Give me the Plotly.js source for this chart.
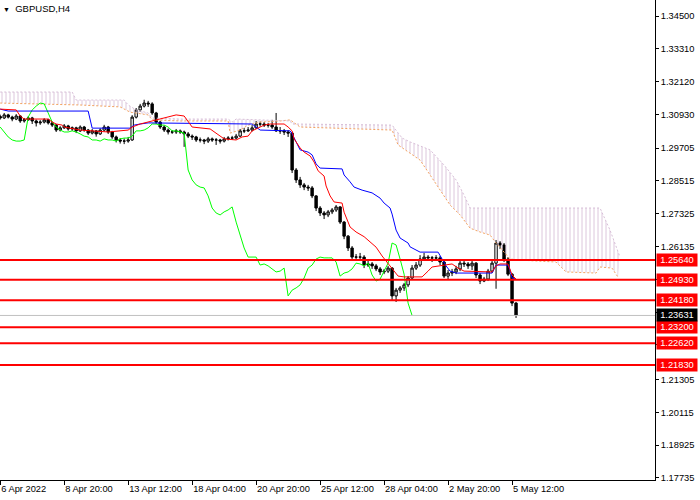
<!DOCTYPE html>
<html><head><meta charset="utf-8">
<script src="https://cdn.plot.ly/plotly-3.0.1.min.js"></script>
<style>html,body{margin:0;padding:0;background:#fff}#chart{width:700px;height:500px}</style>
</head><body><div id="chart"></div>
<script>
// ---- data (H4 bars, index 0 = first visible bar) ----
const symbolTitle = "GBPUSD,H4";
const tickBars = [0,16,32,48,64,80,96,112,128];
const tickLabels = ["6 Apr 2022","8 Apr 20:00","13 Apr 12:00","18 Apr 04:00","20 Apr 20:00","25 Apr 12:00","28 Apr 04:00","2 May 20:00","5 May 12:00"];

const openP = [1.3085,1.3080,1.3091,1.3083,1.3076,1.3087,1.3069,1.3073,1.3080,1.3069,
1.3062,1.3065,1.3073,1.3062,1.3054,1.3036,1.3044,1.3051,1.3040,1.3044,
1.3033,1.3047,1.3036,1.3025,1.3033,1.3022,1.3036,1.3047,1.3029,1.3011,
1.3000,1.2996,1.2996,1.3000,1.3083,1.3109,1.3123,1.3134,1.3131,1.3098,
1.3065,1.3047,1.3036,1.3029,1.3029,1.3033,1.3029,1.3022,1.3014,1.3011,
1.3000,1.3000,1.2996,1.3004,1.3000,1.3000,1.2996,1.3004,1.3007,1.3007,
1.3014,1.3033,1.3033,1.3036,1.3044,1.3058,1.3058,1.3054,1.3054,1.3047,
1.3033,1.3033,1.3029,1.3025,1.2891,1.2855,1.2837,1.2829,1.2826,1.2797,
1.2753,1.2735,1.2728,1.2739,1.2746,1.2757,1.2702,1.2651,1.2608,1.2575,
1.2575,1.2575,1.2546,1.2550,1.2543,1.2532,1.2521,1.2524,1.2535,1.2434,
1.2455,1.2463,1.2474,1.2499,1.2535,1.2546,1.2568,1.2575,1.2572,1.2572,
1.2572,1.2557,1.2506,1.2517,1.2521,1.2532,1.2553,1.2550,1.2543,1.2553,
1.2510,1.2488,1.2495,1.2524,1.2553,1.2626,1.2619,1.2568,1.2513,1.2408];

const highP = [1.3092,1.3098,1.3095,1.3088,1.3094,1.3090,1.3080,1.3086,1.3084,1.3074,
1.3072,1.3079,1.3077,1.3067,1.3058,1.3050,1.3058,1.3055,1.3049,1.3048,
1.3053,1.3051,1.3040,1.3040,1.3036,1.3042,1.3055,1.3051,1.3033,1.3016,
1.3007,1.3006,1.3011,1.3090,1.3116,1.3131,1.3146,1.3142,1.3137,1.3102,
1.3070,1.3053,1.3042,1.3036,1.3040,1.3038,1.3034,1.3029,1.3020,1.3015,
1.3009,1.3004,1.3011,1.3009,1.3007,1.3004,1.3011,1.3014,1.3015,1.3022,
1.3040,1.3044,1.3047,1.3054,1.3069,1.3067,1.3065,1.3062,1.3073,1.3098,
1.3047,1.3040,1.3036,1.3029,1.2898,1.2866,1.2844,1.2837,1.2833,1.2800,
1.2760,1.2742,1.2746,1.2753,1.2764,1.2760,1.2706,1.2655,1.2615,1.2586,
1.2590,1.2582,1.2561,1.2557,1.2550,1.2539,1.2532,1.2543,1.2539,1.2463,
1.2470,1.2481,1.2506,1.2546,1.2557,1.2582,1.2590,1.2582,1.2579,1.2582,
1.2579,1.2561,1.2528,1.2532,1.2543,1.2561,1.2564,1.2557,1.2564,1.2557,
1.2517,1.2503,1.2532,1.2561,1.2637,1.2633,1.2626,1.2575,1.2517,1.2412];

const lowP = [1.3074,1.3076,1.3078,1.3068,1.3072,1.3062,1.3063,1.3070,1.3058,1.3049,
1.3055,1.3060,1.3056,1.3047,1.3029,1.3031,1.3040,1.3034,1.3033,1.3025,
1.3029,1.3030,1.3018,1.3020,1.3012,1.3018,1.3031,1.3022,1.3004,1.2991,
1.2987,1.2985,1.2990,1.2997,1.3078,1.3102,1.3118,1.3120,1.3091,1.3058,
1.3040,1.3029,1.3020,1.3022,1.3022,1.3022,1.2975,1.3007,1.3000,1.2993,
1.2991,1.2985,1.2989,1.2993,1.2982,1.2987,1.2991,1.2998,1.3000,1.3002,
1.3011,1.3025,1.3029,1.3031,1.3040,1.3049,1.3047,1.3045,1.3040,1.3029,
1.3022,1.3018,1.3011,1.2880,1.2844,1.2826,1.2818,1.2815,1.2789,1.2742,
1.2724,1.2713,1.2720,1.2731,1.2739,1.2695,1.2640,1.2597,1.2564,1.2564,
1.2561,1.2535,1.2539,1.2532,1.2524,1.2510,1.2513,1.2517,1.2419,1.2412,
1.2445,1.2452,1.2466,1.2492,1.2528,1.2539,1.2561,1.2561,1.2557,1.2561,
1.2546,1.2499,1.2495,1.2506,1.2513,1.2524,1.2539,1.2532,1.2528,1.2499,
1.2477,1.2484,1.2488,1.2517,1.2460,1.2604,1.2557,1.2506,1.2397,1.2354];

const closeP = [1.3080,1.3091,1.3083,1.3076,1.3087,1.3069,1.3073,1.3080,1.3069,1.3062,
1.3065,1.3073,1.3062,1.3054,1.3036,1.3044,1.3051,1.3040,1.3044,1.3033,
1.3047,1.3036,1.3025,1.3033,1.3022,1.3036,1.3047,1.3029,1.3011,1.3000,
1.2996,1.2996,1.3000,1.3083,1.3109,1.3123,1.3134,1.3131,1.3098,1.3065,
1.3047,1.3036,1.3029,1.3029,1.3033,1.3029,1.3022,1.3014,1.3011,1.3000,
1.3000,1.2996,1.3004,1.3000,1.3000,1.2996,1.3004,1.3007,1.3007,1.3014,
1.3033,1.3033,1.3036,1.3044,1.3058,1.3058,1.3054,1.3054,1.3047,1.3033,
1.3033,1.3029,1.3025,1.2891,1.2855,1.2837,1.2829,1.2826,1.2797,1.2753,
1.2735,1.2728,1.2739,1.2746,1.2757,1.2702,1.2651,1.2608,1.2575,1.2575,
1.2575,1.2546,1.2550,1.2543,1.2532,1.2521,1.2524,1.2535,1.2434,1.2455,
1.2463,1.2474,1.2499,1.2535,1.2546,1.2568,1.2575,1.2572,1.2572,1.2572,
1.2557,1.2506,1.2517,1.2521,1.2532,1.2553,1.2550,1.2543,1.2553,1.2510,
1.2488,1.2495,1.2524,1.2553,1.2626,1.2619,1.2568,1.2513,1.2408,1.23631];

// Ichimoku lines (vertices: bar index, price)
const tenkanBar = [0,4,5,6,12,13,14,15.5,16,20,27,32,33,35,38,42,44,46,47,48,52.5,54,55,56,59,60.5,62,63,64,66,67.5,71,72,73,73.5,75,76,77.5,78.5,79.5,81,81.5,82.5,83.5,85.5,86,87.5,89,91,94,95.5,97,98,99.5,101,105.5,107,108,113,114.5,116,123,124,125,127,128,129];
const tenkanVal = [1.3112,1.3109,1.3087,1.3076,1.3076,1.3065,1.3058,1.3054,1.3047,1.3036,1.3029,1.3036,1.3047,1.3058,1.3069,1.3083,1.3091,1.3087,1.3065,1.3047,1.3040,1.3025,1.3014,1.3004,1.3000,1.3011,1.3014,1.3033,1.3040,1.3054,1.3058,1.3058,1.3047,1.3033,1.3004,1.2971,1.2956,1.2942,1.2920,1.2888,1.2869,1.2833,1.2797,1.2775,1.2771,1.2738,1.2684,1.2666,1.2649,1.2611,1.2579,1.2553,1.2532,1.2506,1.2503,1.2503,1.2524,1.2539,1.2550,1.2535,1.2524,1.2521,1.2543,1.2550,1.2550,1.2510,1.2495];

const kijunBar = [0,2,22,23,32.5,33.5,35,37,63,64,65,72.5,73,74,75,77,78,79,80,85.5,86,87.5,88.5,90.5,93,95,96,97.5,98,99,100,102,102.5,105,109.5,110.5,111.5,112.5,114,123,123.5,124,127,127.5,128,129];
const kijunVal = [1.3112,1.3105,1.3105,1.3043,1.3043,1.3054,1.3058,1.3062,1.3058,1.3047,1.3036,1.3033,1.3022,1.2993,1.2964,1.2956,1.2946,1.2913,1.2898,1.2895,1.2873,1.2848,1.2829,1.2818,1.2808,1.2789,1.2771,1.2753,1.2731,1.2673,1.2644,1.2626,1.2612,1.2593,1.2593,1.2568,1.2543,1.2524,1.2517,1.2517,1.2535,1.2546,1.2546,1.2528,1.2499,1.2495];

const spanABar = [0,7.5,20,30,32.5,37,38,45,57,57.5,60,62,65,70,72.5,75,82,98,99.5,102.5,105,107.5,110,112.5,115,117.5,120,122.5,124,127.5,130,139,141.5,149,150,153,154.5];
const spanAVal = [1.3134,1.3131,1.3127,1.3120,1.3101,1.3091,1.3073,1.3069,1.3069,1.3025,1.3036,1.3054,1.3065,1.3069,1.3073,1.3047,1.3044,1.3036,1.2982,1.2953,1.2927,1.2873,1.2818,1.2764,1.2728,1.2680,1.2666,1.2655,1.2626,1.2568,1.2564,1.2557,1.2521,1.2517,1.2539,1.2535,1.2502];

const spanBBar = [0,18,19,31,32,34,37,38,45,57,58,59,72.5,73,98,99,100.5,102.5,107.5,111,114,116,117.5,150,152.5,155];
const spanBVal = [1.3174,1.3174,1.3145,1.3145,1.3127,1.3109,1.3098,1.3080,1.3076,1.3076,1.3065,1.3076,1.3069,1.3058,1.3054,1.3036,1.3007,1.2993,1.2964,1.2909,1.2855,1.2800,1.2753,1.2753,1.2673,1.2575];

const chikouShift = 26;
const levels = [1.2564,1.2493,1.2418,1.2320,1.2262,1.2183];
const bidPrice = 1.23631;
const yTickVals = [1.34500,1.33310,1.32120,1.30930,1.29705,1.28515,1.27325,1.26135,1.24945,1.23755,1.22565,1.21305,1.20115,1.18925,1.17735];
// labels that sit under the level boxes are hidden in the reference
const yTickText = ["1.34500","1.33310","1.32120","1.30930","1.29705","1.28515","1.27325","1.26135","","","","1.21305","1.20115","1.18925","1.17735"];

// ---- build ----
const bars = closeP.map((_, i) => i);
const chX = [], chY = [];
for (let k = chikouShift; k < closeP.length; k++) { chX.push(k - chikouShift); chY.push(closeP[k]); }

const FONT = "Liberation Sans, Arial, sans-serif";
const traces = [
  {type:'scatter', mode:'lines', x:spanABar, y:spanAVal, line:{color:'#f4a460', width:1, dash:'2px,2px'}, hoverinfo:'skip'},
  {type:'scatter', mode:'lines', x:spanBBar, y:spanBVal, line:{color:'#d8bfd8', width:1, dash:'2px,2px'}, hoverinfo:'skip',
   fill:'tonexty', fillcolor:'rgba(0,0,0,0)',
   fillpattern:{shape:'|', fgcolor:'#dcc6dc', bgcolor:'rgba(0,0,0,0)', size:4, solidity:0.25}},
  {type:'candlestick', x:bars, open:openP, high:highP, low:lowP, close:closeP, whiskerwidth:0,
   increasing:{line:{color:'#000000', width:1}, fillcolor:'#ffffff'},
   decreasing:{line:{color:'#000000', width:1}, fillcolor:'#000000'}, hoverinfo:'skip'},
  {type:'scatter', mode:'lines', x:chX, y:chY, line:{color:'#00ff00', width:1}, hoverinfo:'skip'},
  {type:'scatter', mode:'lines', x:kijunBar, y:kijunVal, line:{color:'#0000ff', width:1}, hoverinfo:'skip'},
  {type:'scatter', mode:'lines', x:tenkanBar, y:tenkanVal, line:{color:'#ff0000', width:1}, hoverinfo:'skip'}
];

const shapes = levels.map(v => ({type:'line', xref:'paper', x0:0, x1:1, yref:'y', y0:v, y1:v, line:{color:'#ff0000', width:2}, layer:'above'}));
shapes.unshift({type:'line', xref:'paper', x0:0, x1:1, yref:'y', y0:bidPrice, y1:bidPrice, line:{color:'#c0c0c0', width:1}, layer:'above'});

const annotations = levels.map(v => ({xref:'paper', x:1, xanchor:'left', xshift:1, yref:'y', y:v, yanchor:'middle',
  text:v.toFixed(5), showarrow:false, bgcolor:'#ff0000', font:{family:FONT, size:9.3, color:'#ffffff'}, width:38, height:10, borderpad:1}));
annotations.push({xref:'paper', x:1, xanchor:'left', xshift:1, yref:'y', y:bidPrice, yanchor:'middle',
  text:bidPrice.toFixed(5), showarrow:false, bgcolor:'#000000', font:{family:FONT, size:9.3, color:'#ffffff'}, width:38, height:10, borderpad:1});
annotations.push({xref:'paper', yref:'paper', x:0, y:1, xanchor:'left', yanchor:'top', xshift:1, yshift:-1,
  text:'<span style="font-size:7px">▼</span>  ' + symbolTitle, showarrow:false, font:{family:FONT, size:9.5, color:'#000000'}});

const layout = {
  width:700, height:500, margin:{l:0, r:45, t:0, b:20, pad:0},
  paper_bgcolor:'#ffffff', plot_bgcolor:'#ffffff', showlegend:false, boxgap:0.15,
  xaxis:{range:[-0.05, 163.75], tickmode:'array', tickvals:tickBars, ticktext:tickLabels,
    showgrid:false, zeroline:false, showline:true, linecolor:'#000', linewidth:1,
    ticks:'outside', ticklen:4, tickcolor:'#000', ticklabelposition:'outside right',
    tickfont:{family:FONT, size:9.3, color:'#000'}, rangeslider:{visible:false}, fixedrange:true},
  yaxis:{side:'right', range:[1.17658, 1.35081], tickmode:'array', tickvals:yTickVals, ticktext:yTickText,
    showgrid:false, zeroline:false, showline:true, linecolor:'#000', linewidth:1,
    ticks:'outside', ticklen:3, tickcolor:'#000',
    tickfont:{family:FONT, size:9.3, color:'#000'}, fixedrange:true},
  shapes:shapes, annotations:annotations
};
Plotly.newPlot('chart', traces, layout, {displayModeBar:false, staticPlot:true});
</script></body></html>
